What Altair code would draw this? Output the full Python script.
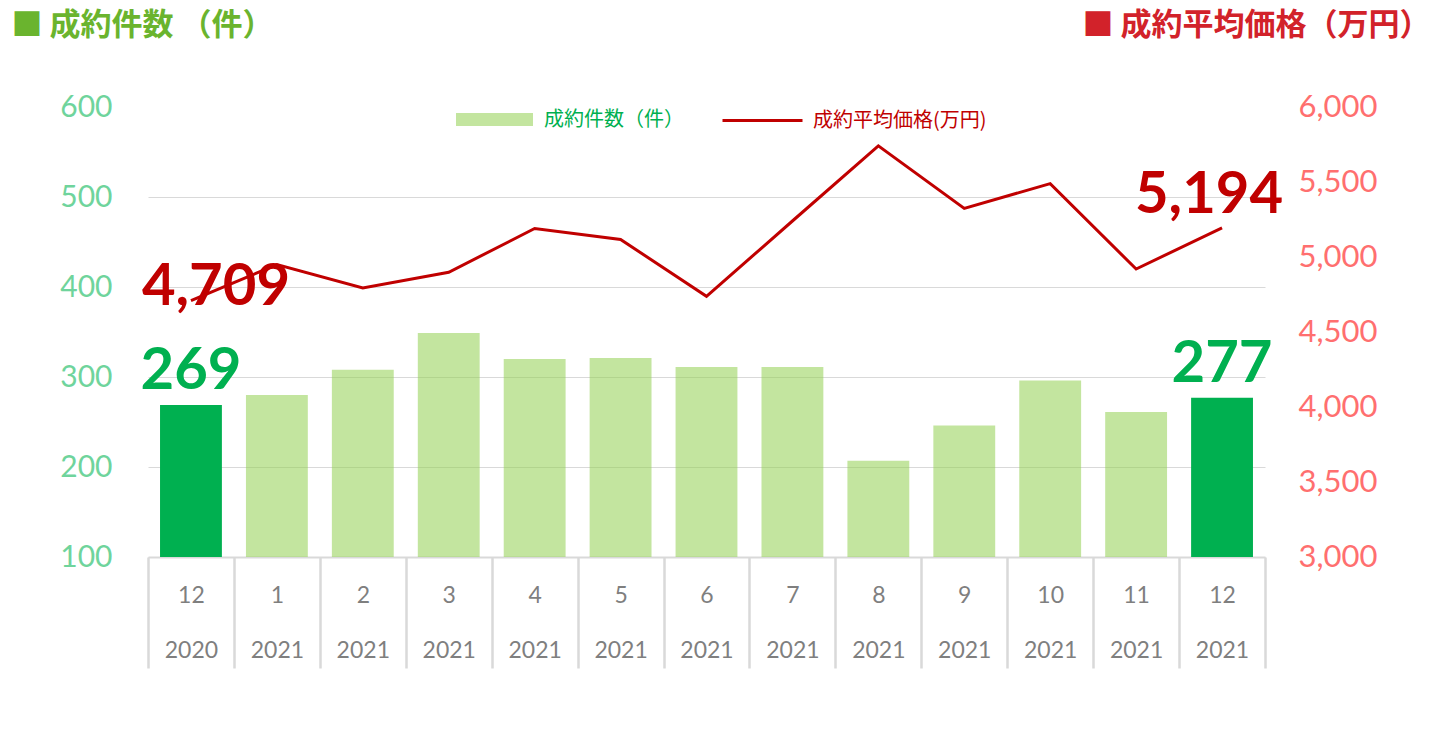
import altair as alt
import pandas as pd

months = ["12", "1", "2", "3", "4", "5", "6", "7", "8", "9", "10", "11", "12"]
years = ["2020"] + ["2021"] * 12
counts = [269, 280, 308, 349, 320, 321, 311, 311, 207, 246, 296, 261, 277]
prices = [4709, 4949, 4793, 4898, 5190, 5117, 4738, 5240, 5741, 5324, 5489, 4920, 5194]
highlight = [True] + [False] * 11 + [True]

bar_name = "成約件数（件）"
line_name = "成約平均価格(万円)"
left_title = "■ 成約件数 （件）"
right_title = "■ 成約平均価格（万円）"

keys = [f"{m}|{y}" for m, y in zip(months, years)]
df = pd.DataFrame({
    "key": keys,
    "idx": list(range(len(keys))),
    "count": counts,
    "price": prices,
    "hl": highlight,
    "s1": bar_name,
    "s2": line_name,
})

NUM = "Lato"
CJK = "Noto Sans CJK JP"

x_enc = alt.X(
    "key:N", sort=keys,
    scale=alt.Scale(paddingInner=0, paddingOuter=0),
    axis=alt.Axis(
        title=None, labelAngle=0, labelExpr="split(datum.label, '|')",
        labelLineHeight=55, labelFont=NUM, labelFontSize=23, labelColor="#7F7F7F",
        labelBaseline="middle", labelPadding=-73, labelOverlap=False,
        tickBand="extent", tickSize=111, tickColor="#D9D9D9", tickWidth=2.5,
        domainColor="#D9D9D9", domainWidth=2,
    ),
)

y_left = alt.Y(
    "count:Q",
    scale=alt.Scale(domain=[100, 600], zero=False, nice=False),
    axis=alt.Axis(
        values=[100, 200, 300, 400, 500, 600], format="d",
        title=left_title, titleAngle=0, titleAlign="left", titleBaseline="middle",
        titleX=-137, titleY=-82, titleFont=CJK, titleFontSize=31,
        titleFontWeight="bold", titleColor="#6AB42E",
        labelFont=NUM, labelFontSize=30, labelColor="#6FD49C", labelPadding=36,
        domain=False, ticks=False, grid=True, gridColor="#D9D9D9", gridWidth=1,
        gridOpacity={"condition": {"test": "datum.value >= 600", "value": 0}, "value": 1},
    ),
)

y_right = alt.Y(
    "price:Q",
    scale=alt.Scale(domain=[3000, 6000], zero=False, nice=False),
    axis=alt.Axis(
        orient="right",
        values=[3000, 3500, 4000, 4500, 5000, 5500, 6000], format=",.0f",
        title=right_title, titleAngle=0, titleAlign="right", titleBaseline="middle",
        titleX=165, titleY=-82, titleFont=CJK, titleFontSize=31,
        titleFontWeight="bold", titleColor="#D2222A",
        labelFont=NUM, labelFontSize=31, labelColor="#FF6F6F", labelPadding=33,
        domain=False, ticks=False, grid=False,
    ),
)

bars = alt.Chart(df).mark_bar(clip=True, width=alt.RelativeBandSize(0.72)).encode(
    x=x_enc,
    y=y_left,
    color=alt.condition(
        "datum.hl",
        alt.value("#00B050"),
        alt.Color("s1:N", scale=alt.Scale(range=["#92D050"]),
                  legend=alt.Legend(title=None, orient="none", legendX=308, legendY=-26,
                                    symbolType="M-1,-0.17H1V0.17H-1Z", symbolSize=5929,
                                    symbolOpacity=0.55, symbolStrokeWidth=0,
                                    labelFont=CJK, labelFontSize=20, labelColor="#00B050",
                                    labelOffset=11, labelLimit=300, padding=0)),
    ),
    opacity=alt.condition("datum.hl", alt.value(1), alt.value(0.55)),
)

bar_text = alt.Chart(df).transform_filter("datum.hl").mark_text(
    font=NUM, fontSize=58, fontWeight="bold", color="#00B050",
    baseline="alphabetic", align="center", dy=-16,
).encode(x=x_enc, y=y_left, text="count:Q")

line = alt.Chart(df).mark_line(strokeWidth=3).encode(
    x=x_enc,
    y=y_right,
    color=alt.Color("s2:N", scale=alt.Scale(range=["#C00000"]),
                    legend=alt.Legend(title=None, orient="none", legendX=573, legendY=-28,
                                      symbolType="stroke", symbolSize=6400,
                                      symbolStrokeWidth=3,
                                      labelFont=CJK, labelFontSize=20, labelColor="#C00000",
                                      labelOffset=9, labelLimit=300, padding=0)),
)

first_text = alt.Chart(df).transform_filter("datum.idx == 0").mark_text(
    font=NUM, fontSize=58, fontWeight="bold", color="#C00000",
    baseline="alphabetic", align="center", dx=25, dy=4,
).encode(x=x_enc, y=y_right, text=alt.Text("price:Q", format=","))

last_text = alt.Chart(df).transform_filter("datum.idx == 12").mark_text(
    font=NUM, fontSize=58, fontWeight="bold", color="#C00000",
    baseline="alphabetic", align="center", dx=-13, dy=-15,
).encode(x=x_enc, y=y_right, text=alt.Text("price:Q", format=","))

chart = alt.layer(
    alt.layer(bars, bar_text),
    alt.layer(first_text, last_text, line),
).resolve_scale(
    y="independent", color="independent"
).properties(
    width=1117, height=450,
    padding={"left": 140, "top": 99, "right": 167, "bottom": 150},
    autosize=alt.AutoSizeParams(type="none"),
).configure_view(stroke=None)

chart.save("out.html", embed_options={"renderer": "svg", "actions": False})
